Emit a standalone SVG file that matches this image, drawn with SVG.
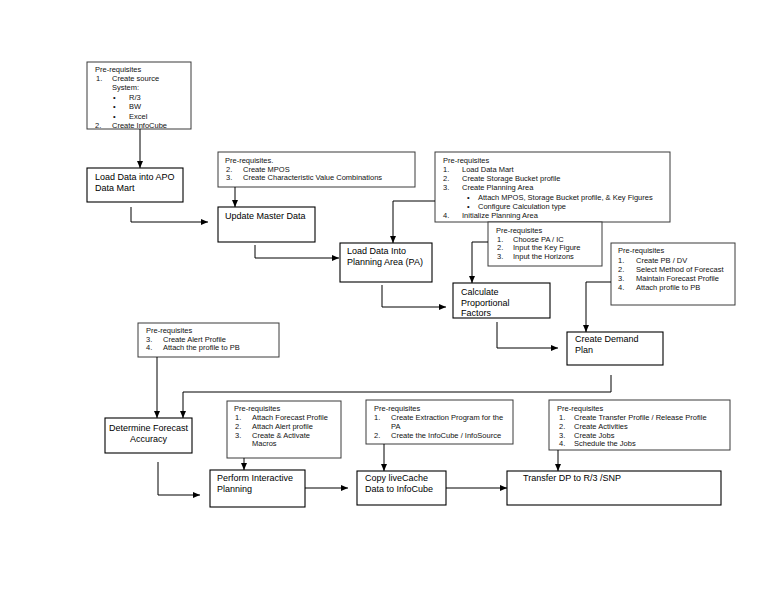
<svg xmlns="http://www.w3.org/2000/svg" width="768" height="594" viewBox="0 0 768 594">
<defs>
<style>
.bg{fill:#ffffff}
.pre rect{fill:#ffffff;stroke:#3a3a3a;stroke-width:1}
.box rect{fill:#ffffff;stroke:#000000;stroke-width:1.1}
.pre text{font-family:"Liberation Sans",Arial,sans-serif;font-size:7.5px;fill:#111}
.box text{font-family:"Liberation Sans",Arial,sans-serif;font-size:9px;fill:#000}
.mid{text-anchor:middle}
#connectors path{fill:none;stroke:#000;stroke-width:1;marker-end:url(#arrow)}
</style>
<marker id="arrow" markerUnits="userSpaceOnUse" markerWidth="7" markerHeight="6" refX="7" refY="3" orient="auto">
<path d="M0,0 L7,3 L0,6 z" fill="#000"/>
</marker>
</defs>
<rect class="bg" x="0" y="0" width="768" height="594"/>

<g id="prereq-datamart" class="pre">
<rect x="87" y="62" width="104" height="67"/>
<text x="95" y="72">Pre-requisites</text>
<text x="96" y="81">1.</text><text x="112" y="81">Create source</text>
<text x="112" y="90">System:</text>
<text x="113" y="99.5">•</text><text x="129" y="99.5">R/3</text>
<text x="113" y="109">•</text><text x="129" y="109">BW</text>
<text x="113" y="118.5">•</text><text x="129" y="118.5">Excel</text>
<text x="95" y="128">2.</text><text x="112" y="128">Create InfoCube</text>
</g>

<g id="load-apo" class="box">
<rect x="87" y="168" width="96" height="34"/>
<text x="95" y="180">Load Data into APO</text>
<text x="95" y="191">Data Mart</text>
</g>

<g id="prereq-master" class="pre">
<rect x="218" y="152" width="197" height="35"/>
<text x="225" y="163">Pre-requisites.</text>
<text x="226" y="171.5">2.</text><text x="243" y="171.5">Create MPOS</text>
<text x="226" y="180">3.</text><text x="243" y="180">Create Characteristic Value Combinations</text>
</g>

<g id="update-master" class="box">
<rect x="218" y="207" width="97" height="35"/>
<text x="225" y="219">Update Master Data</text>
</g>

<g id="prereq-pa" class="pre">
<rect x="435" y="152" width="235" height="70"/>
<text x="443" y="163">Pre-requisites</text>
<text x="443" y="172">1.</text><text x="462" y="172">Load Data Mart</text>
<text x="443" y="181">2.</text><text x="462" y="181">Create Storage Bucket profile</text>
<text x="443" y="190">3.</text><text x="462" y="190">Create Planning Area</text>
<text x="467" y="199.5">•</text><text x="478" y="199.5">Attach MPOS, Storage Bucket profile, &amp; Key Figures</text>
<text x="467" y="209">•</text><text x="478" y="209">Configure Calculation type</text>
<text x="443" y="218">4.</text><text x="462" y="218">Initialize Planning Area</text>
</g>

<g id="load-pa" class="box">
<rect x="340" y="243" width="92" height="39"/>
<text x="347" y="254">Load Data Into</text>
<text x="347" y="265">Planning Area (PA)</text>
</g>

<g id="prereq-prop" class="pre">
<rect x="488" y="222" width="114" height="44"/>
<text x="496" y="233">Pre-requisites</text>
<text x="497" y="241.5">1.</text><text x="513" y="241.5">Choose PA / IC</text>
<text x="497" y="250">2.</text><text x="513" y="250">Input the Key Figure</text>
<text x="497" y="258.5">3.</text><text x="513" y="258.5">Input the Horizons</text>
</g>

<g id="calc-prop" class="box">
<rect x="453" y="283" width="97" height="35"/>
<text x="461" y="295">Calculate</text>
<text x="461" y="305.5">Proportional</text>
<text x="461" y="316">Factors</text>
</g>

<g id="prereq-demand" class="pre">
<rect x="611" y="243" width="124" height="62"/>
<text x="618" y="253">Pre-requisites</text>
<text x="618" y="262.5">1.</text><text x="636" y="262.5">Create PB / DV</text>
<text x="618" y="271.5">2.</text><text x="636" y="271.5">Select Method of Forecast</text>
<text x="618" y="280.5">3.</text><text x="636" y="280.5">Maintain Forecast Profile</text>
<text x="618" y="289.5">4.</text><text x="636" y="289.5">Attach profile to PB</text>
</g>

<g id="create-demand" class="box">
<rect x="567" y="332" width="96" height="33"/>
<text x="575" y="342">Create Demand</text>
<text x="575" y="353">Plan</text>
</g>

<g id="prereq-accuracy" class="pre">
<rect x="138" y="323" width="141" height="34"/>
<text x="146" y="333">Pre-requisites</text>
<text x="146" y="341.5">3.</text><text x="163" y="341.5">Create Alert Profile</text>
<text x="146" y="350">4.</text><text x="163" y="350">Attach the profile to PB</text>
</g>

<g id="determine-accuracy" class="box">
<rect x="105" y="418" width="87" height="35"/>
<text class="mid" x="148.5" y="431">Determine Forecast</text>
<text class="mid" x="148.5" y="441.5">Accuracy</text>
</g>

<g id="prereq-interactive" class="pre">
<rect x="227" y="401" width="114" height="57"/>
<text x="234" y="411">Pre-requisites</text>
<text x="235" y="420">1.</text><text x="252" y="420">Attach Forecast Profile</text>
<text x="235" y="429">2.</text><text x="252" y="429">Attach Alert profile</text>
<text x="235" y="437.5">3.</text><text x="252" y="437.5">Create &amp; Activate</text>
<text x="252" y="446">Macros</text>
</g>

<g id="perform-interactive" class="box">
<rect x="210" y="470" width="95" height="37"/>
<text x="217" y="481">Perform Interactive</text>
<text x="217" y="492">Planning</text>
</g>

<g id="prereq-copy" class="pre">
<rect x="366" y="400" width="147" height="44"/>
<text x="374" y="411">Pre-requisites</text>
<text x="374" y="420">1.</text><text x="391" y="420">Create Extraction Program for the</text>
<text x="391" y="429">PA</text>
<text x="374" y="438">2.</text><text x="391" y="438">Create the InfoCube / InfoSource</text>
</g>

<g id="copy-livecache" class="box">
<rect x="357" y="471" width="89" height="34"/>
<text x="365" y="481">Copy liveCache</text>
<text x="365" y="492">Data to InfoCube</text>
</g>

<g id="prereq-transfer" class="pre">
<rect x="549" y="400" width="181" height="50"/>
<text x="557" y="411">Pre-requisites</text>
<text x="559" y="420">1.</text><text x="574" y="420">Create Transfer Profile / Release Profile</text>
<text x="559" y="429">2.</text><text x="574" y="429">Create Activities</text>
<text x="559" y="437.5">3.</text><text x="574" y="437.5">Create Jobs</text>
<text x="559" y="446">4.</text><text x="574" y="446">Schedule the Jobs</text>
</g>

<g id="transfer-dp" class="box">
<rect x="507" y="471" width="214" height="34"/>
<text x="523" y="481">Transfer DP to R/3 /SNP</text>
</g>

<g id="connectors">
<path d="M140,129 V168"/>
<path d="M131,207 V222 H208"/>
<path d="M235,187 V207"/>
<path d="M255,245 V258 H339"/>
<path d="M435,201 H393 V243"/>
<path d="M382,285 V307 H446"/>
<path d="M488,242 H472 V283"/>
<path d="M497,322 V348 H558"/>
<path d="M611,282 H586 V332"/>
<path d="M611,375 V392 H183 V418"/>
<path d="M157,357 V418"/>
<path d="M158,462 V495 H200"/>
<path d="M244,458 V470"/>
<path d="M305,488 H348"/>
<path d="M384,444 V471"/>
<path d="M446,488 H507"/>
<path d="M558,450 V471"/>
</g>
</svg>
